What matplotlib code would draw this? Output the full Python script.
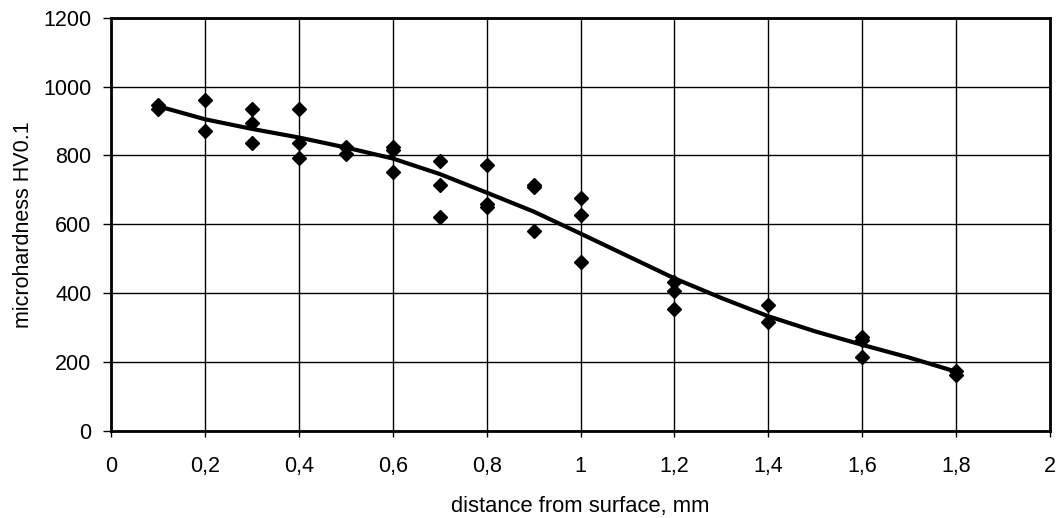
import matplotlib
matplotlib.use("Agg")
import matplotlib.pyplot as plt
from matplotlib.ticker import FuncFormatter

# measured points
x_pts = [0.1, 0.1, 0.2, 0.2, 0.3, 0.3, 0.3, 0.4, 0.4, 0.4, 0.5, 0.5,
         0.6, 0.6, 0.6, 0.7, 0.7, 0.7, 0.8, 0.8, 0.8, 0.9, 0.9, 0.9,
         1.0, 1.0, 1.0, 1.2, 1.2, 1.2, 1.4, 1.4, 1.6, 1.6, 1.6, 1.8, 1.8]
y_pts = [945, 935, 960, 870, 935, 895, 835, 935, 835, 792, 825, 805,
         825, 815, 752, 783, 715, 620, 773, 658, 650, 715, 708, 580,
         675, 627, 490, 432, 405, 355, 367, 315, 272, 265, 215, 175, 163]

# trend curve
x_fit = [0.1, 0.2, 0.3, 0.4, 0.5, 0.6, 0.7, 0.8, 0.9, 1.0, 1.1, 1.2,
         1.3, 1.4, 1.5, 1.6, 1.7, 1.8]
y_fit = [943, 905, 877, 852, 823, 791, 746, 692, 637, 573, 508, 443,
         386, 333, 289, 250, 213, 172]

x_ticks = [0, 0.2, 0.4, 0.6, 0.8, 1.0, 1.2, 1.4, 1.6, 1.8, 2.0]
y_ticks = [0, 200, 400, 600, 800, 1000, 1200]

plt.rcParams['font.family'] = ['Liberation Sans', 'DejaVu Sans']

fig = plt.figure(figsize=(10.6, 5.18), dpi=100)
ax = fig.add_axes([0.1047, 0.168, 0.886, 0.798])

ax.plot(x_fit, y_fit, color='black', lw=3, solid_capstyle='butt', zorder=3)
ax.plot(x_pts, y_pts, linestyle='none', marker='D', markersize=7,
        color='black', zorder=4)

ax.set_xlim(0, 2)
ax.set_ylim(0, 1200)
ax.set_xticks(x_ticks)
ax.set_yticks(y_ticks)

def fmt_x(v, pos):
    s = ('%.1f' % v).rstrip('0').rstrip('.')
    return s.replace('.', ',')

ax.xaxis.set_major_formatter(FuncFormatter(fmt_x))
ax.grid(True, color='black', lw=1)
ax.set_axisbelow(True)
for sp in ax.spines.values():
    sp.set_linewidth(2)
    sp.set_color('black')
ax.tick_params(axis='both', direction='out', width=1,
               labelsize=15.5, color='black')
ax.tick_params(axis='x', length=4.5, pad=13.5)
ax.tick_params(axis='y', length=6, pad=8)

ax.set_xlabel('distance from surface, mm', fontsize=15.8, labelpad=14)
ax.set_ylabel('microhardness HV0.1', fontsize=15.5, labelpad=7)

fig.savefig('out.png', dpi=100)
